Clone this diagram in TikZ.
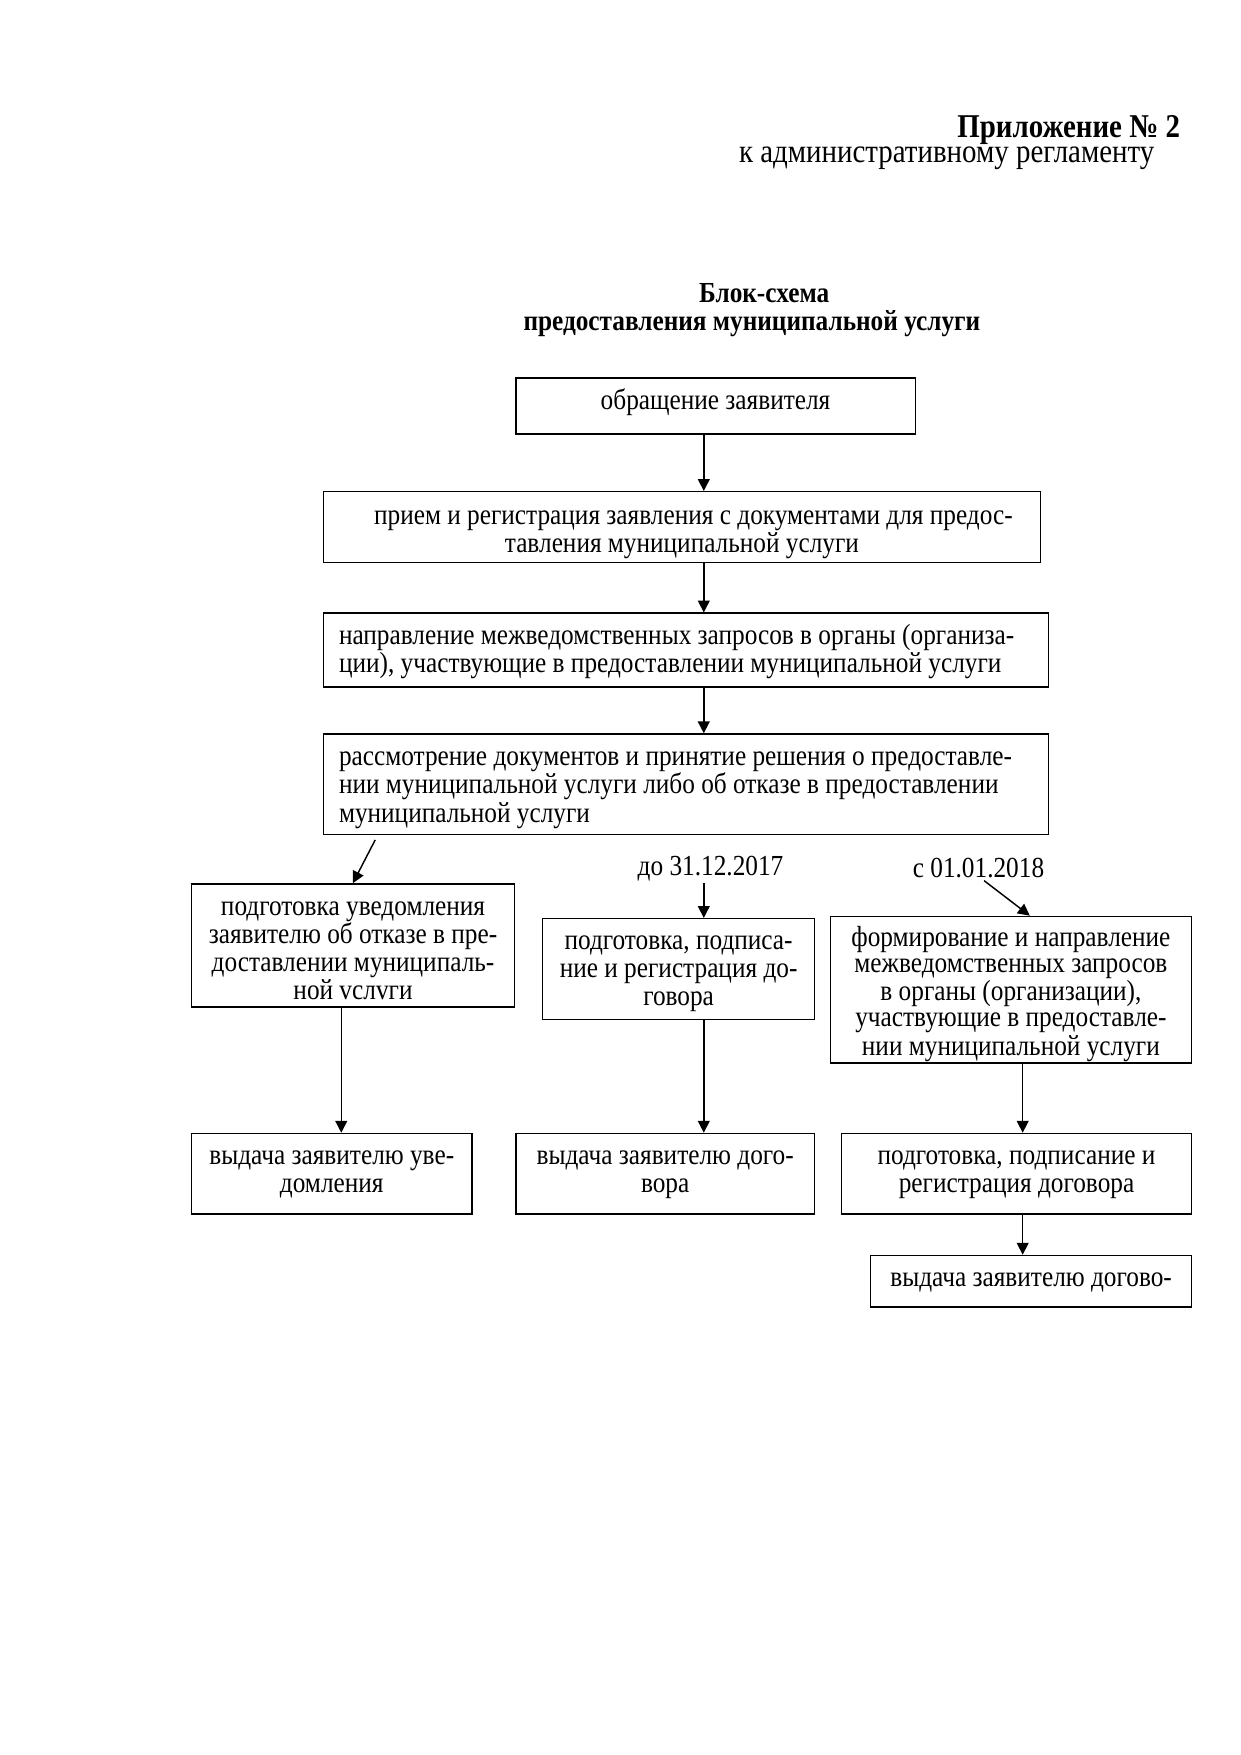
\documentclass[tikz,border=0pt]{standalone}
\usepackage{fontspec}
\setmainfont{Liberation Serif}[FakeStretch=0.87]
\usetikzlibrary{arrows.meta,calc}

\begin{document}
\begin{tikzpicture}[x=0.018936cm,y=-0.018936cm,
    box/.style={draw, line width=0.7pt, align=flush center, inner xsep=0pt, inner ysep=0pt,
      text height=15pt, font=\fontsize{14}{13.5}\selectfont},
    lbox/.style={box, align=flush left, inner xsep=0.265cm},
    lbl/.style={inner sep=1pt, font=\fontsize{14}{13.5}\selectfont},
    arr/.style={line width=0.7pt, -{Triangle[length=2mm,width=2mm]}}]
            % Draw page
            \fill[white] (0,0) rectangle (1109,1568.5);
            \useasboundingbox (0,0) rectangle (1109,1568.5);

            % Draw headings
            \node[anchor=base east, inner sep=0pt, font=\fontsize{16}{18}\selectfont\bfseries] (app) at (1055,122.5) {Приложение № 2};
            \node[anchor=base east, inner sep=0pt, font=\fontsize{16}{18}\selectfont] (reg) at (1032,145.4) {к административному регламенту};
            \node[anchor=base, inner sep=0pt, font=\fontsize{14}{16}\selectfont\bfseries] (title) at (683,270) {Блок-схема};
            \node[anchor=base, inner sep=0pt, font=\fontsize{14}{16}\selectfont\bfseries] (subtitle) at (672,295.5) {предоставления муниципальной услуги};

            % Draw boxes
            \node[box, text width=6.760cm, text depth=11.94pt] (b1) at (639.5,363) {обращение заявителя};
            \node[box, text width=12.138cm, text height=16pt, text depth=18.16pt] (b2) at (609.5,471.1) {\hspace*{11pt}прием и регистрация  заявления с  документами для предос-\\тавления муниципальной услуги};
            \node[lbox, text width=11.741cm, text depth=20.56pt] (b3) at (613,581) {направление межведомственных запросов в органы (организа-\\ции), участвующие  в предоставлении муниципальной услуги};
            \node[lbox, text width=11.741cm, text depth=33.49pt, font=\fontsize{14}{13.7}\selectfont] (b4) at (613,701) {рассмотрение документов и принятие решения о предоставле-\\нии муниципальной  услуги либо об отказе в предоставлении\\муниципальной  услуги};

            \node[box, text width=5.473cm, text depth=44.27pt] (b5) at (315.5,845) {подготовка уведомления\\заявителю об отказе в пре-\\доставлении муниципаль-\\ной  vслvги};
            \node[box, text width=4.601cm, text depth=33.49pt] (b6) at (606.5,866) {подготовка, подписа-\\ние и регистрация до-\\говора};
            \node[box, text width=6.116cm, text height=14.5pt, text depth=56.08pt, font=\fontsize{14}{12.5}\selectfont] (b7) at (903.5,884.5) {формирование и направление\\межведомственных запросов\\в органы (организации),\\участвующие в предоставле-\\нии муниципальной услуги};

            \node[box, text width=4.753cm, text depth=23.79pt] (b8) at (296.5,1049) {выдача заявителю уве-\\домления};
            \node[box, text width=5.056cm, text depth=23.79pt] (b9) at (594.5,1049) {выдача заявителю дого-\\вора};
            \node[box, text width=5.927cm, text depth=23.79pt] (b10) at (908.5,1049) {подготовка, подписание и\\регистрация договора};
            \node[box, text width=5.435cm, text depth=9.78pt] (b11) at (921.5,1145) {выдача заявителю догово-};

            % Draw date labels
            \node[lbl] (d1) at (635,776) {до 31.12.2017};
            \node[lbl] (d2) at (874.5,776) {с 01.01.2018};

            % Draw arrows
            \coordinate (mid) at (629,0);
            \coordinate (lcol) at (305,0);
            \coordinate (rcol) at (914,0);
            \draw[arr] (b1.south -| mid) -- (b2.north -| mid);
            \draw[arr] (b2.south -| mid) -- (b3.north -| mid);
            \draw[arr] (b3.south -| mid) -- (b4.north -| mid);
            \draw[arr] ($(b4.south west)+(47,4)$) -- ($(b5.north west)+(145,0)$);
            \draw[arr] (d1.south -| mid) -- (b6.north -| mid);
            \draw[arr] ($(d2.south)+(5,0)$) -- ($(b7.north west)+(179,0)$);
            \draw[arr] (b5.south -| lcol) -- (b8.north -| lcol);
            \draw[arr] (b6.south -| mid) -- (b9.north -| mid);
            \draw[arr] (b7.south -| rcol) -- (b10.north -| rcol);
            \draw[arr] (b10.south -| rcol) -- (b11.north -| rcol);
        \end{tikzpicture}
\end{document}
